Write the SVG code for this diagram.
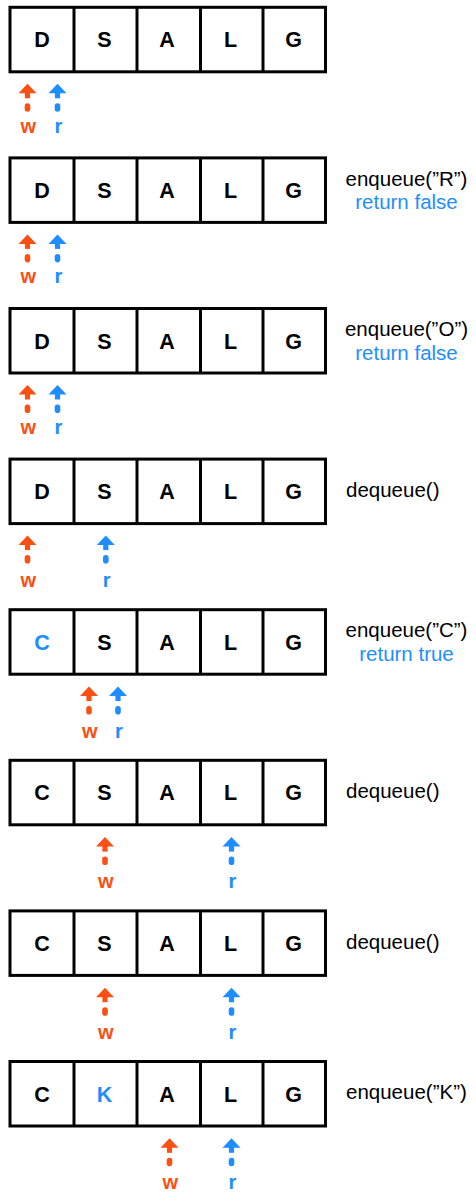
<svg xmlns="http://www.w3.org/2000/svg" xmlns:xlink="http://www.w3.org/1999/xlink" width="476" height="1192" viewBox="0 0 476 1192">
  <style>
    .cell { fill: #ffffff; stroke: #000000; stroke-width: 3; }
    .letter { font-family: "Liberation Sans", Arial, sans-serif; font-weight: bold; font-size: 21.5px; text-anchor: middle; fill: #000000; }
    .op { font-family: "Liberation Sans", Arial, sans-serif; font-size: 20.5px; fill: #000000; }
    .ret { font-family: "Liberation Sans", Arial, sans-serif; font-size: 20.5px; fill: #1E8EFF; }
    .mid { text-anchor: middle; }
    .ptr { font-family: "Liberation Sans", Arial, sans-serif; font-weight: bold; font-size: 20px; text-anchor: middle; }
    .blue { fill: #1E8EFF; }
    .orange { fill: #FA5014; }
  </style>
  <defs>
    <!-- one row of five cells, top-left at origin -->
    <g id="row">
      <rect class="cell" x="0" y="0" width="315.5" height="64.5"/>
      <line class="cell" x1="64" y1="0" x2="64" y2="64.5"/>
      <line class="cell" x1="127" y1="0" x2="127" y2="64.5"/>
      <line class="cell" x1="190.5" y1="0" x2="190.5" y2="64.5"/>
      <line class="cell" x1="253" y1="0" x2="253" y2="64.5"/>
    </g>
    <!-- pointer arrow, tip at origin -->
    <g id="arrow">
      <polygon points="0,-0.5 9,9 -9,9"/>
      <rect x="-2.6" y="8" width="5.2" height="6"/>
      <rect x="-2.8" y="19" width="5.6" height="8.5" rx="2.8"/>
    </g>
  </defs>

  <!-- row 1 -->
  <g id="row1" transform="translate(10,7.3)">
    <use xlink:href="#row"/>
    <text class="letter" x="32" y="40">D</text>
    <text class="letter" x="94.5" y="40">S</text>
    <text class="letter" x="157" y="40">A</text>
    <text class="letter" x="220.5" y="40">L</text>
    <text class="letter" x="283.5" y="40">G</text>
  </g>

  <!-- row 2 -->
  <g id="row2" transform="translate(10,157.9)">
    <use xlink:href="#row"/>
    <text class="letter" x="32" y="40">D</text>
    <text class="letter" x="94.5" y="40">S</text>
    <text class="letter" x="157" y="40">A</text>
    <text class="letter" x="220.5" y="40">L</text>
    <text class="letter" x="283.5" y="40">G</text>
  </g>

  <!-- row 3 -->
  <g id="row3" transform="translate(10,308.5)">
    <use xlink:href="#row"/>
    <text class="letter" x="32" y="40">D</text>
    <text class="letter" x="94.5" y="40">S</text>
    <text class="letter" x="157" y="40">A</text>
    <text class="letter" x="220.5" y="40">L</text>
    <text class="letter" x="283.5" y="40">G</text>
  </g>

  <!-- row 4 -->
  <g id="row4" transform="translate(10,459.1)">
    <use xlink:href="#row"/>
    <text class="letter" x="32" y="40">D</text>
    <text class="letter" x="94.5" y="40">S</text>
    <text class="letter" x="157" y="40">A</text>
    <text class="letter" x="220.5" y="40">L</text>
    <text class="letter" x="283.5" y="40">G</text>
  </g>

  <!-- row 5 -->
  <g id="row5" transform="translate(10,609.7)">
    <use xlink:href="#row"/>
    <text class="letter blue" x="32" y="40">C</text>
    <text class="letter" x="94.5" y="40">S</text>
    <text class="letter" x="157" y="40">A</text>
    <text class="letter" x="220.5" y="40">L</text>
    <text class="letter" x="283.5" y="40">G</text>
  </g>

  <!-- row 6 -->
  <g id="row6" transform="translate(10,760.3)">
    <use xlink:href="#row"/>
    <text class="letter" x="32" y="40">C</text>
    <text class="letter" x="94.5" y="40">S</text>
    <text class="letter" x="157" y="40">A</text>
    <text class="letter" x="220.5" y="40">L</text>
    <text class="letter" x="283.5" y="40">G</text>
  </g>

  <!-- row 7 -->
  <g id="row7" transform="translate(10,910.9)">
    <use xlink:href="#row"/>
    <text class="letter" x="32" y="40">C</text>
    <text class="letter" x="94.5" y="40">S</text>
    <text class="letter" x="157" y="40">A</text>
    <text class="letter" x="220.5" y="40">L</text>
    <text class="letter" x="283.5" y="40">G</text>
  </g>

  <!-- row 8 -->
  <g id="row8" transform="translate(10,1061.5)">
    <use xlink:href="#row"/>
    <text class="letter" x="32" y="40">C</text>
    <text class="letter blue" x="94.5" y="40">K</text>
    <text class="letter" x="157" y="40">A</text>
    <text class="letter" x="220.5" y="40">L</text>
    <text class="letter" x="283.5" y="40">G</text>
  </g>

  <!-- operation labels -->
  <g id="ops">
    <text class="op mid" x="406.5" y="185.5">enqueue(”R”)</text>
    <text class="ret mid" x="406.5" y="209">return false</text>
    <text class="op mid" x="406.5" y="336.1">enqueue(”O”)</text>
    <text class="ret mid" x="406.5" y="359.6">return false</text>
    <text class="op" x="346" y="497">dequeue()</text>
    <text class="op mid" x="406.5" y="637.3">enqueue(”C”)</text>
    <text class="ret mid" x="406.5" y="660.8">return true</text>
    <text class="op" x="346" y="798.2">dequeue()</text>
    <text class="op" x="346" y="948.8">dequeue()</text>
    <text class="op" x="346" y="1099.4">enqueue(”K”)</text>
  </g>

  <!-- write (w) and read (r) pointers -->
  <g id="pointers">
    <g transform="translate(0,84.3)">
      <use xlink:href="#arrow" class="orange" x="27.5"/>
      <text class="ptr orange" x="28.3" y="48.5">w</text>
      <use xlink:href="#arrow" class="blue" x="57.5"/>
      <text class="ptr blue" x="58.3" y="48.5">r</text>
    </g>
    <g transform="translate(0,234.9)">
      <use xlink:href="#arrow" class="orange" x="27.5"/>
      <text class="ptr orange" x="28.3" y="48.5">w</text>
      <use xlink:href="#arrow" class="blue" x="57.5"/>
      <text class="ptr blue" x="58.3" y="48.5">r</text>
    </g>
    <g transform="translate(0,385.5)">
      <use xlink:href="#arrow" class="orange" x="27.5"/>
      <text class="ptr orange" x="28.3" y="48.5">w</text>
      <use xlink:href="#arrow" class="blue" x="57.5"/>
      <text class="ptr blue" x="58.3" y="48.5">r</text>
    </g>
    <g transform="translate(0,536.1)">
      <use xlink:href="#arrow" class="orange" x="27.5"/>
      <text class="ptr orange" x="28.3" y="50.5">w</text>
      <use xlink:href="#arrow" class="blue" x="105.8"/>
      <text class="ptr blue" x="106.6" y="50.5">r</text>
    </g>
    <g transform="translate(0,687)">
      <use xlink:href="#arrow" class="orange" x="89"/>
      <text class="ptr orange" x="89.8" y="50.5">w</text>
      <use xlink:href="#arrow" class="blue" x="118"/>
      <text class="ptr blue" x="118.8" y="50.5">r</text>
    </g>
    <g transform="translate(0,837.6)">
      <use xlink:href="#arrow" class="orange" x="105"/>
      <text class="ptr orange" x="105.8" y="50.5">w</text>
      <use xlink:href="#arrow" class="blue" x="231.5"/>
      <text class="ptr blue" x="232.3" y="50.5">r</text>
    </g>
    <g transform="translate(0,988.2)">
      <use xlink:href="#arrow" class="orange" x="105"/>
      <text class="ptr orange" x="105.8" y="50.5">w</text>
      <use xlink:href="#arrow" class="blue" x="231.5"/>
      <text class="ptr blue" x="232.3" y="50.5">r</text>
    </g>
    <g transform="translate(0,1138.8)">
      <use xlink:href="#arrow" class="orange" x="169.5"/>
      <text class="ptr orange" x="170.3" y="50.5">w</text>
      <use xlink:href="#arrow" class="blue" x="231.5"/>
      <text class="ptr blue" x="232.3" y="50.5">r</text>
    </g>
  </g>
</svg>
